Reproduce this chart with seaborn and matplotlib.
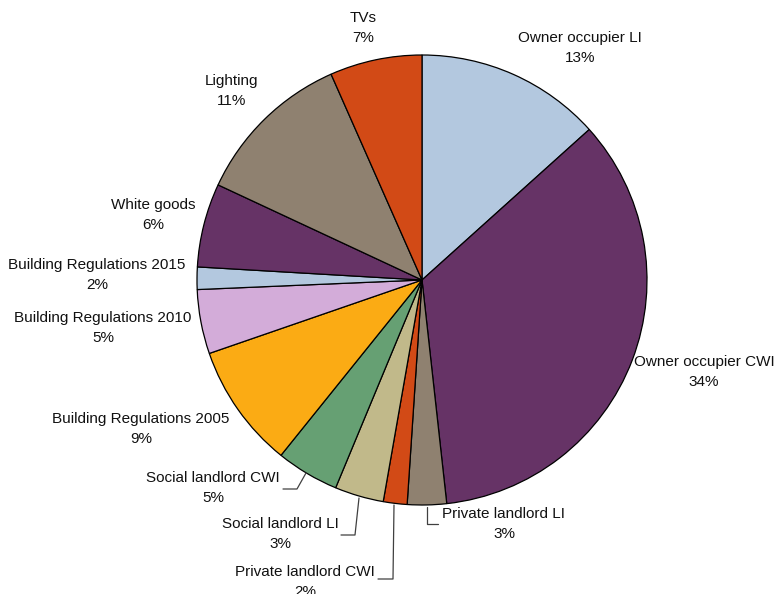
import matplotlib
matplotlib.use("Agg")
import matplotlib.pyplot as plt
import seaborn as sns

# ---- data ----
categories = ["Owner occupier LI", "Owner occupier CWI", "Private landlord LI",
              "Private landlord CWI", "Social landlord LI", "Social landlord CWI",
              "Building Regulations 2005", "Building Regulations 2010",
              "Building Regulations 2015", "White goods", "Lighting", "TVs"]
shares = [13.3, 34.8, 2.8, 1.7, 3.5, 4.5, 8.9, 4.6, 1.6, 6.0, 11.4, 6.6]
pct_labels = ["13%", "34%", "3%", "2%", "3%", "5%", "9%", "5%", "2%", "6%", "11%", "7%"]
colors = ["#b3c8df", "#663366", "#8f8170", "#d24a16", "#c1b98a", "#66a073",
          "#fbab14", "#d3acd9", "#b3c8df", "#663366", "#8f8170", "#d24a16"]

# ---- layout (pixel coords, y from top) ----
W, H = 784, 594
center = (422, 280)
radius = 225
label_pos = [(580, 48), (704, 372), (504, 524), (305, 582), (280, 534), (213, 488),
             (141, 429), (103, 328), (97, 275), (153, 215), (232, 91), (363, 28)]
leaders = {
    2: [(427, 507), (427, 524), (438, 524)],
    3: [(394, 505), (393, 579), (378, 579)],
    4: [(359, 498), (355, 535), (341, 535)],
    5: [(306, 473), (297, 489), (283, 489)],
}

sns.set_theme(style="white")
plt.rcParams["font.family"] = ["Liberation Sans", "DejaVu Sans"]

fig = plt.figure(figsize=(W / 100, H / 100), dpi=100)
ax = fig.add_axes([0, 0, 1, 1])
ax.pie(shares, colors=colors, startangle=90, counterclock=False,
       center=(center[0], H - center[1]), radius=radius,
       wedgeprops=dict(edgecolor="black", linewidth=0.9))
ax.set_xlim(0, W)
ax.set_ylim(0, H)
ax.set_aspect("equal")
ax.axis("off")

for i, (cat, pl) in enumerate(zip(categories, pct_labels)):
    x, y = label_pos[i]
    ax.text(x, H - y, f"{cat}\n{pl}", ha="center", va="center",
            fontsize=11, color="#111111", linespacing=1.55)

for pts in leaders.values():
    xs = [p[0] for p in pts]
    ys = [H - p[1] for p in pts]
    ax.plot(xs, ys, color="#404040", linewidth=0.9)

fig.savefig("out.png", dpi=100)
